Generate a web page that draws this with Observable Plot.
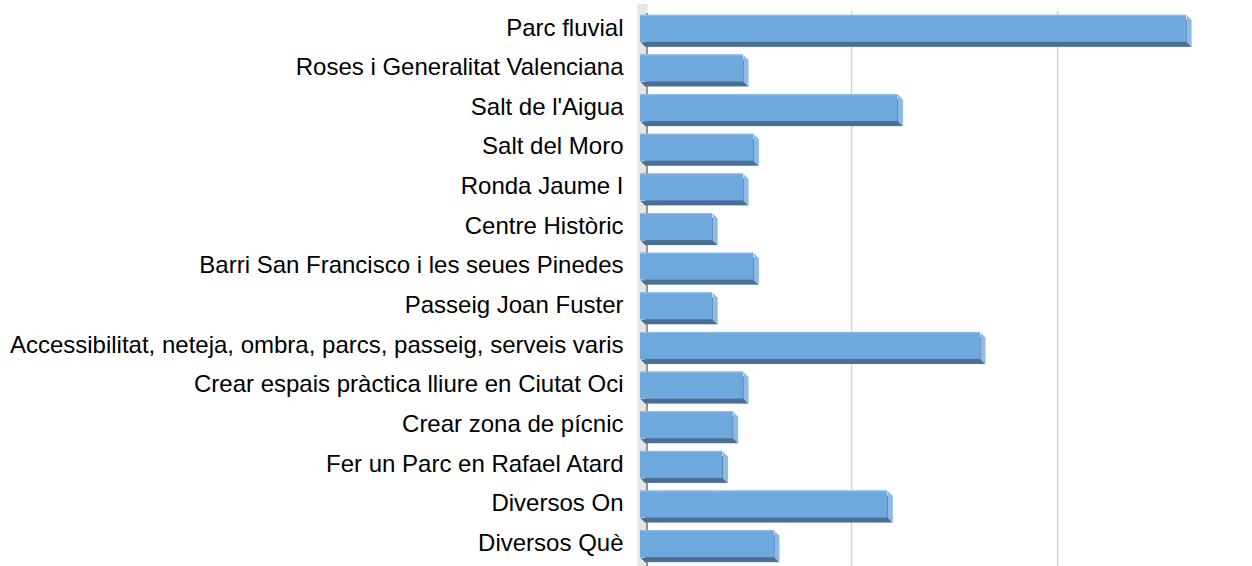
<!DOCTYPE html>
<html><head><meta charset="utf-8">
<script src="https://cdn.jsdelivr.net/npm/d3@7"></script>
<script src="https://cdn.jsdelivr.net/npm/@observablehq/plot@0.6"></script>
<style>html,body{margin:0;padding:0;background:#fff} svg{display:block}</style>
</head><body><div id="chart"></div>
<script>
const categories = [
  "Parc fluvial",
  "Roses i Generalitat Valenciana",
  "Salt de l'Aigua",
  "Salt del Moro",
  "Ronda Jaume I",
  "Centre Històric",
  "Barri San Francisco i les seues Pinedes",
  "Passeig Joan Fuster",
  "Accessibilitat, neteja, ombra, parcs, passeig, serveis varis",
  "Crear espais pràctica lliure en Ciutat Oci",
  "Crear zona de pícnic",
  "Fer un Parc en Rafael Atard",
  "Diversos On",
  "Diversos Què"
];
const values = [53, 10, 25, 11, 10, 7, 11, 7, 33, 10, 9, 8, 24, 13];
const gridTicks = [20, 40];

const data = categories.map((c, i) => ({cat: c, value: values[i]}));
const pad = 3.82, depth = 5;
const half = 16; // half of the bar box height (front 27 + depth 5)

// 3D side face of a bar end (parallelogram), relative to (value, band centre)
const sideFace = {draw(ctx) {
  ctx.moveTo(0, -half); ctx.lineTo(depth, -half + depth);
  ctx.lineTo(depth, half); ctx.lineTo(0, half - depth); ctx.closePath();
}};
// slanted start of the bottom face at the zero line
const bottomStart = {draw(ctx) {
  ctx.moveTo(0, half - depth); ctx.lineTo(depth, half - depth);
  ctx.lineTo(depth, half); ctx.closePath();
}};

const plot = Plot.plot({
  width: 1252, height: 566,
  marginLeft: 640, marginRight: 0, marginTop: 11, marginBottom: 0,
  style: {fontFamily: "'Liberation Sans', Arial, sans-serif", fontSize: "24px", color: "#000", background: "#fff"},
  x: {domain: [0, 59.4], axis: null},
  y: {domain: categories, padding: 0, round: false, axis: null},
  marks: [
    Plot.ruleX([0], {stroke: "#e6e6e6", strokeWidth: 10, dx: 2, insetTop: -7}),
    Plot.ruleX(gridTicks, {stroke: "#d2d2d2", strokeWidth: 1.5, dx: depth}),
    Plot.ruleX([0], {stroke: "#3a3a3a", strokeWidth: 1, dx: 6.5, insetTop: 2}),
    Plot.barX(data, {y: "cat", x: "value", fill: "#4a6f94", dx: depth, dy: depth, insetTop: pad, insetBottom: pad + depth}),
    Plot.dot(data, {y: "cat", x: () => 0, symbol: bottomStart, fill: "#4a6f94", stroke: "none", r: 5}),
    Plot.dot(data, {y: "cat", x: "value", symbol: sideFace, fill: "#8ebbe6", stroke: "none", r: 5}),
    Plot.barX(data, {y: "cat", x: "value", fill: "#6fa8dc", insetTop: pad, insetBottom: pad + depth}),
    Plot.barX(data, {y: "cat", x: "value", fill: "#8dbbe8", insetTop: pad, insetBottom: 39.64 - pad - 1.2}),
    Plot.text(data, {y: "cat", x: 0, text: "cat", textAnchor: "end", dx: -17, dy: -3.5, fontSize: 24, fill: "#000"})
  ]
});
document.getElementById("chart").appendChild(plot);
</script>
</body></html>
